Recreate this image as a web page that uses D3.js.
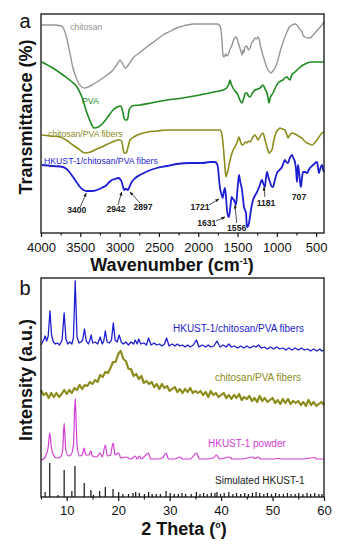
<!DOCTYPE html>
<html><head><meta charset="utf-8">
<script src="https://cdn.jsdelivr.net/npm/d3@7"></script>
<style>body{margin:0;background:#fff}svg text{font-family:Arial,"Liberation Sans",Helvetica,sans-serif}</style>
</head><body><svg id="c" width="346" height="544"></svg>
<script>
// ---------- DATA: panel a (FTIR, wavenumber cm-1, offset transmittance) ----------
const ftirChitosan = [[3991,209],[3850,209],[3737,208],[3700,203],[3673,196],[3630,180],[3593,166],[3540,154],[3482,147],[3440,146],[3402,147],[3330,150],[3250,154],[3160,159],[3084,164],[3030,170],[2995,174],[2960,170],[2930,166],[2910,167],[2880,170],[2830,176],[2750,181],[2656,187],[2550,193],[2448,199],[2350,203],[2274,206],[2143,209],[2050,210],[1978,210],[1900,210],[1812,210],[1760,210],[1723,208],[1700,196],[1685,179],[1672,177],[1650,180],[1635,178],[1621,179],[1600,184],[1570,189],[1545,195],[1520,197],[1505,195],[1494,192],[1470,186],[1455,182],[1443,179],[1430,184],[1420,181],[1405,187],[1385,188],[1360,184],[1341,186],[1320,191],[1300,193],[1278,196],[1260,195],[1240,197],[1220,193],[1205,187],[1189,182],[1170,177],[1151,172],[1130,167],[1113,164],[1090,162],[1074,161],[1050,163],[1023,166],[990,173],[960,182],[920,192],[871,202],[840,207],[807,209],[770,210],[744,209],[720,206],[700,204],[680,202],[660,198],[642,197],[610,196],[578,196],[550,198],[515,201],[470,205],[426,209],[400,212]];
const ftirPVA = [[3991,172],[3850,166],[3720,159],[3620,153],[3542,147],[3480,137],[3415,121],[3370,112],[3326,106],[3270,107],[3211,111],[3150,117],[3084,124],[3030,127],[2982,128],[2965,124],[2944,116],[2925,114],[2906,114],[2890,118],[2880,124],[2840,128],[2741,129],[2600,131],[2397,134],[2200,136],[1978,139],[1800,142],[1685,144],[1640,146],[1610,150],[1596,154],[1580,150],[1558,146],[1530,143],[1494,139],[1470,134],[1443,131],[1420,136],[1400,141],[1380,141],[1360,138],[1341,137],[1310,141],[1278,144],[1240,145],[1214,146],[1190,148],[1176,149],[1150,145],[1125,141],[1110,135],[1100,131],[1085,136],[1049,141],[1020,146],[985,151],[950,153],[922,154],[900,156],[871,157],[850,155],[833,154],[810,159],[769,162],[730,165],[700,167],[667,169],[640,170],[616,171],[553,172],[489,172],[440,172],[400,172]];
const ftirFibers = [[3991,99],[3880,98],[3758,97],[3680,94],[3593,89],[3520,85],[3440,81],[3370,82],[3291,85],[3200,88],[3122,91],[3060,93],[3020,94],[2990,94],[2970,92],[2955,85],[2944,81],[2925,81],[2910,82],[2890,88],[2868,94],[2820,97],[2741,100],[2640,102],[2528,103],[2400,104],[2274,104],[2000,104],[1800,104],[1723,104],[1700,100],[1685,91],[1665,72],[1647,57],[1635,60],[1621,64],[1600,72],[1570,81],[1550,85],[1532,87],[1500,93],[1481,97],[1465,93],[1443,89],[1420,90],[1400,92],[1380,91],[1360,93],[1341,92],[1310,96],[1278,99],[1260,97],[1240,94],[1210,98],[1176,101],[1150,94],[1125,87],[1110,83],[1100,81],[1085,82],[1062,84],[1040,93],[1011,101],[985,104],[960,106],[930,105],[896,104],[875,100],[858,96],[835,99],[807,101],[770,100],[744,99],[710,97],[680,96],[650,93],[616,91],[585,90],[553,89],[520,91],[489,94],[455,98],[426,101],[400,102]];
const ftirComposite = [[3991,69],[3850,68],[3720,67],[3650,63],[3593,57],[3550,52],[3504,47],[3460,44],[3419,43],[3350,43],[3291,44],[3230,46],[3164,49],[3130,52],[3100,54],[3060,55],[3020,56],[2995,55],[2973,52],[2955,47],[2944,44],[2925,45],[2910,45],[2900,44],[2893,44],[2870,48],[2846,52],[2800,56],[2741,59],[2640,63],[2528,66],[2400,68],[2274,70],[2100,71],[1950,71],[1850,72],[1787,72],[1760,70],[1748,66],[1735,55],[1723,46],[1705,40],[1689,36],[1675,42],[1659,46],[1645,35],[1634,24],[1620,18],[1609,17],[1590,28],[1574,37],[1560,35],[1545,34],[1530,31],[1520,29],[1500,45],[1481,59],[1465,52],[1443,44],[1430,35],[1418,27],[1405,24],[1392,21],[1385,12],[1380,7],[1365,8],[1354,11],[1340,18],[1329,24],[1315,30],[1303,34],[1280,38],[1252,42],[1220,48],[1189,54],[1170,50],[1151,47],[1140,55],[1125,62],[1105,56],[1087,52],[1070,48],[1049,47],[1025,54],[998,61],[965,64],[935,67],[915,71],[896,74],[880,72],[858,71],[835,76],[807,79],[790,76],[769,72],[755,64],[744,52],[738,60],[731,69],[715,60],[700,49],[693,47],[680,56],[667,62],[640,62],[616,61],[595,64],[578,66],[540,69],[489,72],[475,66],[464,61],[445,66],[426,69],[410,64],[400,62]];
const ftirTicks = [4000,3500,3000,2500,2000,1500,1000,500];
const ftirMinorTicks = [3750,3250,2750,2250,1750,1250,750];
const ftirPeaks = [
  {t:"3400", at:[3546,21], from:[3500,27], to:[3425,41]},
  {t:"2942", at:[3046,22], from:[3021,29], to:[2973,42]},
  {t:"2897", at:[2703,24], from:[2741,31], to:[2868,42]},
  {t:"1721", at:[1978,24], from:[1863,29], to:[1736,35]},
  {t:"1631", at:[1892,8],  from:[1774,13], to:[1659,17]},
  {t:"1556", at:[1511,3],  from:[1511,11], to:[1532,29]},
  {t:"1181", at:[1138,28], from:[1151,37], to:[1164,47]},
  {t:"707",  at:[718,34]}
];

// ---------- DATA: panel b (XRD, 2 theta, offset intensity) ----------
const xrdComposite = [[5.0,152],[5.3,155],[5.6,158],[5.8,161],[6.1,156],[6.4,161],[6.75,186],[7.05,162],[7.4,155],[7.8,153],[8.2,154],[8.6,152],[9.1,157],[9.5,184],[9.85,158],[10.2,153],[10.6,155],[11.0,153],[11.3,159],[11.65,216],[12.0,160],[12.4,154],[12.8,155],[13.1,157],[13.45,168],[13.8,156],[14.2,153],[14.45,156],[14.75,162],[15.05,154],[15.5,155],[16.0,153],[16.5,160],[16.9,153],[17.2,156],[17.5,166],[17.85,155],[18.3,154],[18.7,157],[19.05,174],[19.4,157],[19.8,155],[20.2,162],[20.6,155],[21.0,153],[21.5,155],[22.0,152],[22.5,155],[23.0,153],[23.3,157],[23.7,153],[24.0,158],[24.4,153],[25.0,154],[25.5,152],[25.9,159],[26.4,152],[27.0,154],[27.5,152],[28.0,153],[28.5,151],[29.0,153],[29.4,159],[29.9,151],[30.5,153],[31.0,151],[31.5,153],[32.0,151],[32.5,152],[33.0,150],[33.5,152],[34.0,150],[34.6,152],[35.2,157],[35.7,150],[36.3,152],[37.0,150],[37.5,152],[38.0,150],[38.6,151],[39.2,156],[39.8,150],[40.4,152],[41.0,150],[41.5,153],[42.0,150],[42.6,151],[43.2,149],[43.8,151],[44.4,149],[45.0,151],[45.6,149],[46.3,151],[46.8,150],[47.3,152],[47.8,149],[48.4,150],[49.0,148],[49.6,150],[50.2,148],[50.8,150],[51.4,148],[52.0,149],[52.6,147],[53.2,149],[53.8,147],[54.4,149],[55.0,147],[55.6,149],[56.2,147],[56.8,148],[57.4,146],[58.0,148],[58.6,146],[59.2,148],[59.6,146],[60.0,147]];
const xrdFibers = [[5.0,107],[5.5,102],[6.0,104],[6.5,99],[7.0,104],[7.5,100],[8.0,104],[8.5,100],[9.0,103],[9.5,107],[10.0,103],[10.5,107],[11.0,104],[11.5,109],[12.0,107],[12.5,112],[13.0,108],[13.5,112],[14.0,111],[14.5,115],[15.0,113],[15.5,117],[16.0,115],[16.5,122],[17.0,120],[17.5,125],[18.0,124],[18.5,129],[19.0,135],[19.5,135],[20.0,143],[20.5,146],[21.0,138],[21.5,136],[22.0,128],[22.5,128],[23.0,121],[23.5,123],[24.0,118],[24.5,121],[25.0,114],[25.5,116],[26.0,113],[26.5,115],[27.0,110],[27.5,113],[28.0,108],[28.5,113],[29.0,109],[29.5,111],[30.0,106],[30.5,108],[31.0,110],[31.5,105],[32.0,108],[32.5,104],[33.0,108],[33.5,105],[34.0,109],[34.5,104],[35.0,106],[35.5,104],[36.0,106],[36.5,102],[37.0,105],[37.5,100],[38.0,106],[38.5,102],[39.0,104],[39.5,100],[40.0,102],[40.5,104],[41.0,99],[41.5,102],[42.0,98],[42.5,102],[43.0,99],[43.5,103],[44.0,97],[44.5,100],[45.0,98],[45.5,101],[46.0,96],[46.5,99],[47.0,95],[47.5,101],[48.0,96],[48.5,99],[49.0,95],[49.5,97],[50.0,99],[50.5,94],[51.0,97],[51.5,93],[52.0,98],[52.5,94],[53.0,98],[53.5,93],[54.0,96],[54.5,94],[55.0,96],[55.5,92],[56.0,95],[56.5,91],[57.0,97],[57.5,92],[58.0,95],[58.5,91],[59.0,93],[59.5,95],[60.0,92]];
const xrdPowder = [[5.0,37],[5.5,38],[6.0,42],[6.4,50],[6.7,64],[7.0,50],[7.4,42],[8.0,39],[8.8,40],[9.2,46],[9.5,74],[9.8,48],[10.3,41],[10.8,42],[11.3,52],[11.65,99],[12.0,52],[12.5,41],[13.0,42],[13.4,49],[13.7,42],[14.3,42],[14.7,46],[15.0,41],[15.8,40],[16.5,44],[16.9,40],[17.5,52],[17.9,41],[18.5,42],[19.0,54],[19.4,42],[20.1,44],[20.5,39],[21.5,40],[22.5,38],[23.3,41],[23.7,38],[24.1,41],[24.5,38],[25.9,44],[26.3,38],[27.5,38],[28.6,39],[29.3,44],[29.8,38],[31.0,38],[32.0,40],[32.5,38],[34.0,38],[35.2,44],[35.8,38],[37.0,38],[38.5,39],[39.1,42],[39.7,38],[41.6,40],[42.2,38],[44.0,38],[46.2,40],[46.6,38.5],[47.2,40],[47.7,38],[50.0,38],[51.0,38.5],[52.0,38],[56.0,38],[58.2,39.5],[58.6,38],[60.0,38]];
const xrdSimulated = [[5.8,5],[6.7,34],[8.3,2],[9.5,27],[11.0,6],[11.6,31],[13.4,14],[14.7,7],[15.2,2],[16.4,6],[17.5,10],[19.0,8],[20.1,5],[20.9,3],[22.0,3],[22.9,4],[23.4,5],[24.1,4],[25.1,3],[25.9,5],[26.6,3],[27.4,3],[28.2,3],[29.3,6],[30.1,4],[30.9,3],[31.7,3],[32.4,4],[33.1,3],[34.2,3],[35.2,5],[35.9,3],[36.6,4],[37.3,3],[38.1,4],[38.8,4],[39.2,5],[39.9,3],[40.6,4],[41.5,5],[42.3,3],[43.0,4],[43.8,3],[44.6,4],[45.3,3],[46.1,4],[46.8,5],[47.5,4],[48.3,3],[49.0,4],[49.8,3],[50.6,4],[51.3,3],[52.1,3],[52.9,4],[53.6,3],[54.4,3],[55.1,4],[55.9,3],[56.7,4],[57.4,3],[58.2,4],[59.0,3],[59.6,3]];
const xrdTicks = [10,20,30,40,50,60];
const xrdMinorTicks = [5,15,25,35,45,55];

// ---------- DRAWING ----------
const svg = d3.select("#c");
const C = {gray:"#969696", green:"#1f8a1f", olive:"#8c8c1c", blue:"#1e1ed2", magenta:"#d23cd2", black:"#111"};

const xA = d3.scaleLinear().domain([4000,400]).range([41,324]);
const yA = d3.scaleLinear().domain([0,220]).range([234,14]);
const xB = d3.scaleLinear().domain([5,60]).range([41,324]);
const yB = d3.scaleLinear().domain([0,219]).range([497,278]);

svg.append("defs").append("marker").attr("id","arr").attr("viewBox","0 0 10 10")
  .attr("refX",9).attr("refY",5).attr("markerWidth",5).attr("markerHeight",5).attr("orient","auto")
  .append("path").attr("d","M0,1L10,5L0,9z").attr("fill","#222");

function axis(g, scale, major, minor, pad){
  g.call(d3.axisBottom(scale).tickValues(major).tickSize(4).tickPadding(pad).tickFormat(d3.format("d")))
   .call(s=>s.select(".domain").remove())
   .call(s=>s.selectAll("text").attr("font-size",13).attr("fill","#111"))
   .call(s=>s.selectAll("line").attr("stroke","#111").attr("stroke-width",1.2));
  g.append("g").call(d3.axisBottom(scale).tickValues(minor).tickSize(2.5).tickFormat(""))
   .call(s=>s.select(".domain").remove())
   .call(s=>s.selectAll("line").attr("stroke","#111").attr("stroke-width",1.1));
}

// Panel a
const gA = svg.append("g");
const lineA = d3.line().x(d=>xA(d[0])).y(d=>yA(d[1])).curve(d3.curveMonotoneX);
[[ftirChitosan,C.gray,1.4],[ftirPVA,C.green,1.6],[ftirFibers,C.olive,1.6],[ftirComposite,C.blue,1.8]].forEach(([d,c,w])=>{
  gA.append("path").datum(d).attr("d",lineA).attr("fill","none").attr("stroke",c).attr("stroke-width",w).attr("stroke-linejoin","round");
});
gA.append("rect").attr("x",41).attr("y",14).attr("width",283).attr("height",219).attr("fill","none").attr("stroke","#111").attr("stroke-width",1.3);
axis(gA.append("g").attr("transform","translate(0,233)"), xA, ftirTicks, ftirMinorTicks, 6);

const lblA = [["chitosan",70,30,C.gray],["PVA",82,104,C.green],["chitosan/PVA fibers",48,137,C.olive],["HKUST-1/chitosan/PVA fibers",44,164,C.blue]];
lblA.forEach(([t,x,y,c])=>gA.append("text").attr("x",x).attr("y",y).attr("font-size",8.7).attr("fill",c).text(t));

ftirPeaks.forEach(p=>{
  gA.append("text").attr("x",xA(p.at[0])).attr("y",yA(p.at[1])).attr("text-anchor","middle")
    .attr("font-size",8.6).attr("font-weight","bold").attr("fill","#222").text(p.t);
  if(p.from) gA.append("line").attr("x1",xA(p.from[0])).attr("y1",yA(p.from[1])).attr("x2",xA(p.to[0])).attr("y2",yA(p.to[1]))
    .attr("stroke","#222").attr("stroke-width",0.8).attr("marker-end","url(#arr)");
});

gA.append("text").attr("x",25).attr("y",28).attr("text-anchor","middle").attr("font-size",20).attr("fill","#111").text("a");
gA.append("text").attr("transform","translate(32,117) rotate(-90)").attr("text-anchor","middle")
  .attr("font-size",18).attr("font-weight","bold").attr("fill","#111").text("Transmittance (%)");
const tA = gA.append("text").attr("x",172).attr("y",271).attr("text-anchor","middle").attr("font-size",18).attr("font-weight","bold").attr("fill","#111");
tA.append("tspan").text("Wavenumber (cm");
tA.append("tspan").attr("font-size",9).attr("dy",-7).text("-1");
tA.append("tspan").attr("dy",7).text(")");

// Panel b
const gB = svg.append("g");
const lineB = d3.line().x(d=>xB(d[0])).y(d=>yB(d[1]));
gB.append("path").datum(xrdFibers).attr("d",lineB).attr("fill","none").attr("stroke",C.olive).attr("stroke-width",2.2).attr("stroke-linejoin","round");
gB.append("path").datum(xrdComposite).attr("d",lineB).attr("fill","none").attr("stroke",C.blue).attr("stroke-width",1.3).attr("stroke-linejoin","round");
gB.append("path").datum(xrdPowder).attr("d",d3.line().x(d=>xB(d[0])).y(d=>yB(d[1])).curve(d3.curveMonotoneX)).attr("fill","none").attr("stroke",C.magenta).attr("stroke-width",1.2);
gB.selectAll("line.stick").data(xrdSimulated).join("line").attr("class","stick")
  .attr("x1",d=>xB(d[0])).attr("x2",d=>xB(d[0])).attr("y1",yB(0)).attr("y2",d=>yB(d[1]))
  .attr("stroke",C.black).attr("stroke-width",1.2);
gB.append("rect").attr("x",41).attr("y",278).attr("width",283).attr("height",219).attr("fill","none").attr("stroke","#111").attr("stroke-width",1.3);
axis(gB.append("g").attr("transform","translate(0,497)"), xB, xrdTicks, xrdMinorTicks, 5);

const lblB = [["HKUST-1/chitosan/PVA fibers",173,332,C.blue],["chitosan/PVA fibers",215,381,C.olive],["HKUST-1 powder",208,447,C.magenta],["Simulated HKUST-1",215,484,"#222"]];
lblB.forEach(([t,x,y,c])=>gB.append("text").attr("x",x).attr("y",y).attr("font-size",10).attr("fill",c).text(t));

gB.append("text").attr("x",25).attr("y",295).attr("text-anchor","middle").attr("font-size",20).attr("fill","#111").text("b");
gB.append("text").attr("transform","translate(32,380) rotate(-90)").attr("text-anchor","middle")
  .attr("font-size",18).attr("font-weight","bold").attr("fill","#111").text("Intensity (a.u.)");
const tB = gB.append("text").attr("x",184).attr("y",535).attr("text-anchor","middle").attr("font-size",18).attr("font-weight","bold").attr("fill","#111");
tB.append("tspan").text("2 Theta (");
tB.append("tspan").attr("font-size",9).attr("dy",-7).text("o");
tB.append("tspan").attr("dy",7).text(")");
</script></body></html>
